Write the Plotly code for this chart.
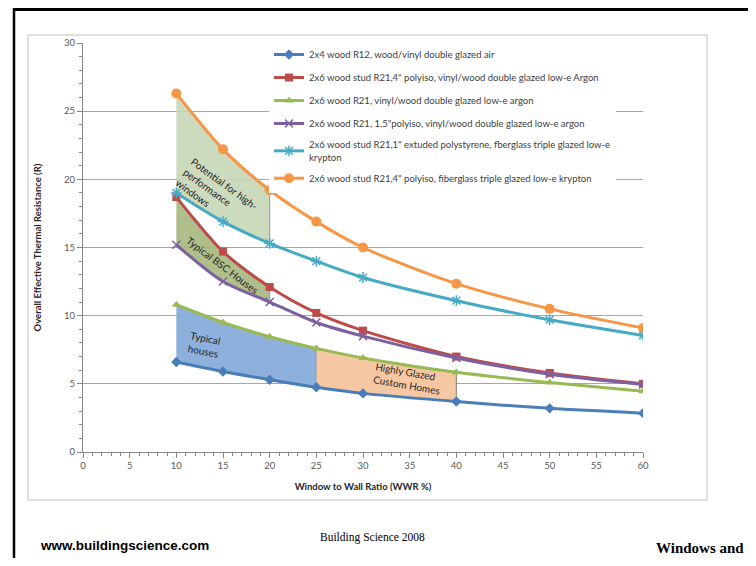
import plotly.graph_objects as go

# Data - effective R-value of wall + window assembly vs window-to-wall ratio
wwr = [10, 15, 20, 25, 30, 40, 50, 60]
r_2x4_dbl_air = [6.6, 5.9, 5.3, 4.75, 4.3, 3.7, 3.2, 2.85]
r_2x6_poly4_dbl = [18.7, 14.7, 12.1, 10.2, 8.9, 7.0, 5.8, 5.0]
r_2x6_dbl_argon = [10.8, 9.5, 8.45, 7.6, 6.9, 5.85, 5.1, 4.45]
r_2x6_poly15_dbl = [15.2, 12.5, 11.0, 9.5, 8.5, 6.9, 5.7, 4.95]
r_2x6_xps1_tpl = [19.0, 16.9, 15.3, 14.0, 12.8, 11.1, 9.7, 8.55]
r_2x6_poly4_tpl = [26.3, 22.2, 19.2, 16.9, 15.0, 12.35, 10.5, 9.1]

series_names = [
    "2x4 wood R12, wood/vinyl double glazed air",
    "2x6 wood stud R21,4\" polyiso, vinyl/wood double glazed low-e Argon",
    "2x6 wood R21, vinyl/wood double glazed low-e argon",
    "2x6 wood R21, 1.5\"polyiso, vinyl/wood double glazed low-e argon",
    "2x6 wood stud R21,1\" extuded polystyrene, fberglass triple glazed low-e<br>krypton",
    "2x6 wood stud R21,4\" polyiso, fiberglass triple glazed low-e krypton",
]

# Styling
FONT = "Lato"
COLORS = ["#4A7EBB", "#BE4B48", "#98B954", "#7D60A0", "#46AAC5", "#F79646"]
SYMBOLS = ["diamond", "square", "triangle-up", "x-thin-open", "asterisk-open", "circle"]
SIZES = [8, 8, 8, 8, 9, 10]

# page body has an 8px margin all round, so keep the figure inside it (no scrollbars)
OFF = 8
W, H = 756 - 2 * OFF, 566 - 2 * OFF
# plot area in window pixels: x 83..643, y 43..452
L, R, T, B = 83, 643, 43, 452


def px(x):
    return (x - L) / (R - L)


def py(y):
    return (B - y) / (B - T)


fig = go.Figure()


def region(xs, top, bottom, fill, edge):
    fig.add_trace(
        go.Scatter(
            x=xs + xs[::-1],
            y=top + bottom[::-1],
            fill="toself",
            fillcolor=fill,
            mode="lines",
            line={"color": edge, "width": 1},
            showlegend=False,
            hoverinfo="skip",
        )
    )


# Shaded regions (drawn under the curves)
region(wwr[0:3], r_2x6_poly4_tpl[0:3], r_2x6_xps1_tpl[0:3], "rgba(198,214,182,0.9)", "#7F9CC0")
region(wwr[0:3], r_2x6_poly4_dbl[0:3], r_2x6_poly15_dbl[0:3], "rgba(165,184,128,0.9)", "#7F9CC0")
region(wwr[0:4], r_2x6_dbl_argon[0:4], r_2x4_dbl_air[0:4], "rgba(135,172,218,0.95)", "#4F81BD")
region(wwr[3:6], r_2x6_dbl_argon[3:6], r_2x4_dbl_air[3:6], "rgba(246,196,158,0.95)", "#8C7A6A")

all_series = [r_2x4_dbl_air, r_2x6_poly4_dbl, r_2x6_dbl_argon, r_2x6_poly15_dbl, r_2x6_xps1_tpl, r_2x6_poly4_tpl]
for i, vals in enumerate(all_series):
    open_sym = SYMBOLS[i].endswith("open")
    fig.add_trace(
        go.Scatter(
            x=wwr,
            y=vals,
            name=series_names[i],
            legendgroup=f"g{i}",
            mode="lines+markers",
            line={"color": COLORS[i], "width": 3, "shape": "spline", "smoothing": 0.8},
            marker={
                "symbol": SYMBOLS[i],
                "size": SIZES[i],
                "color": COLORS[i],
                "line": {"color": COLORS[i], "width": 1.5 if open_sym else 0},
            },
        )
    )

# Region labels
labels = [
    ("Potential for high-<br>performance<br>windows", 14.3, 18.9, 36),
    ("Typical BSC Houses", 14.9, 13.7, 37),
    ("Typical<br>houses", 13.0, 7.9, 11),
    ("Highly Glazed<br>Custom Homes", 34.8, 5.4, 10),
]
for text, x, y, ang in labels:
    fig.add_annotation(
        x=x, y=y, xref="x", yref="y", text=text, showarrow=False, textangle=ang,
        align="left", font={"family": FONT, "size": 10, "color": "#262626"},
    )

# Page furniture
fig.add_annotation(
    x=px(38), y=py(545), xref="paper", yref="paper", xanchor="left", yanchor="middle",
    text="<b>www.buildingscience.com</b>", showarrow=False,
    font={"family": "Liberation Sans", "size": 13.5, "color": "#000000"},
)
fig.add_annotation(
    x=px(372), y=py(537), xref="paper", yref="paper", xanchor="center", yanchor="middle",
    text="Building Science 2008", showarrow=False,
    font={"family": "Liberation Serif", "size": 11.5, "color": "#000000"},
)
fig.add_annotation(
    x=px(746), y=py(558), xref="paper", yref="paper", xanchor="right", yanchor="bottom",
    text="<b>Windows and</b>", showarrow=False,
    font={"family": "Liberation Serif", "size": 15, "color": "#000000"},
)

shapes = [
    # chart border
    {"type": "rect", "xref": "paper", "yref": "paper", "x0": px(28), "x1": px(707), "y0": py(500), "y1": py(35),
     "line": {"color": "#C0C0C0", "width": 1}, "layer": "below"},
    # slide frame
    {"type": "line", "xref": "paper", "yref": "paper", "x0": px(13), "x1": px(748), "y0": py(9.5), "y1": py(9.5),
     "line": {"color": "#000000", "width": 3}},
    {"type": "line", "xref": "paper", "yref": "paper", "x0": px(14), "x1": px(14), "y0": py(8), "y1": py(558),
     "line": {"color": "#000000", "width": 2.5}},
]

axis_common = {
    "showline": True,
    "linecolor": "#868686",
    "linewidth": 1,
    "ticks": "outside",
    "ticklen": 5,
    "tickcolor": "#868686",
    "tickfont": {"family": FONT, "size": 9.5, "color": "#595959"},
    "zeroline": False,
    "fixedrange": True,
}

fig.update_layout(
    width=W,
    height=H,
    paper_bgcolor="#FFFFFF",
    plot_bgcolor="#FFFFFF",
    margin={"l": L - OFF, "r": W - (R - OFF), "t": T - OFF, "b": H - (B - OFF), "autoexpand": False},
    shapes=shapes,
    xaxis={
        **axis_common,
        "range": [0, 60],
        "dtick": 5,
        "tick0": 0,
        "showgrid": False,
        "minor": {"dtick": 1, "ticks": "outside", "ticklen": 3, "tickcolor": "#868686", "showgrid": False},
        "title": {"text": "<b>Window to Wall Ratio (WWR %)</b>", "standoff": 12,
                  "font": {"family": FONT, "size": 9.5, "color": "#262626"}},
    },
    yaxis={
        **axis_common,
        "range": [0, 30],
        "dtick": 5,
        "tick0": 0,
        "showgrid": True,
        "gridcolor": "#A6A6A6",
        "gridwidth": 1,
        "minor": {"dtick": 1, "ticks": "outside", "ticklen": 3, "tickcolor": "#868686", "showgrid": False},
        "title": {"text": "<b>Overall Effective Thermal Resistance (R)</b>", "standoff": 20,
                  "font": {"family": FONT, "size": 9.5, "color": "#262626"}},
    },
    legend={
        "x": px(269),
        "y": py(40),
        "xanchor": "left",
        "yanchor": "top",
        "bgcolor": "#FFFFFF",
        "borderwidth": 0,
        "tracegroupgap": 4,
        "itemwidth": 30,
        "font": {"family": FONT, "size": 9.5, "color": "#404040"},
    },
    showlegend=True,
)

fig.write_html("out.html")
